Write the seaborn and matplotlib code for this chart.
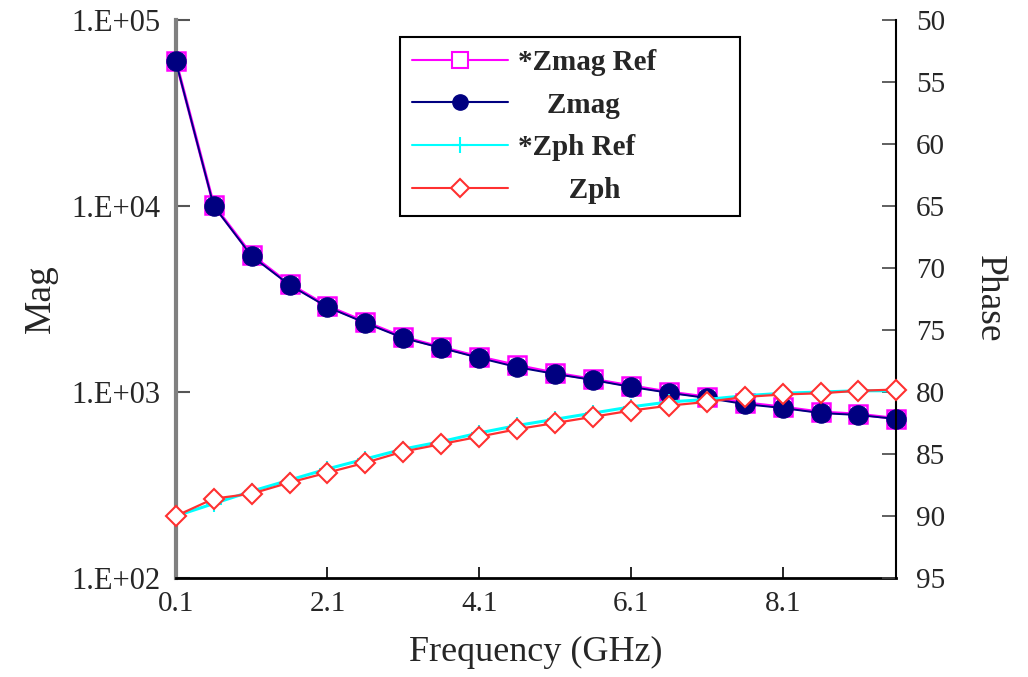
import numpy as np
import pandas as pd
import seaborn as sns
import matplotlib
matplotlib.use("Agg")
import matplotlib.pyplot as plt
from matplotlib.lines import Line2D

freq = [0.1, 0.6, 1.1, 1.6, 2.1, 2.6, 3.1, 3.6, 4.1, 4.6,
        5.1, 5.6, 6.1, 6.6, 7.1, 7.6, 8.1, 8.6, 9.1, 9.6]
zmag_ref = [60500, 10100, 5450, 3800, 2890, 2380, 1970, 1740, 1545, 1390,
            1265, 1170, 1080, 1000, 940, 875, 830, 780, 760, 720]
zmag = [60000, 10000, 5380, 3760, 2860, 2350, 1950, 1725, 1525, 1360,
        1250, 1160, 1065, 990, 929, 861, 820, 771, 752, 716]
zph_ref = [90.0, 89.0, 88.0, 87.1, 86.2, 85.4, 84.6, 84.0, 83.3, 82.7,
           82.2, 81.7, 81.2, 80.8, 80.6, 80.3, 80.1, 80.0, 79.9, 79.9]
zph = [90.0, 88.6, 88.2, 87.3, 86.5, 85.7, 84.8, 84.2, 83.6, 83.0,
       82.5, 82.0, 81.5, 81.1, 80.8, 80.4, 80.2, 80.1, 79.9, 79.8]
x_ticks = [0.1, 2.1, 4.1, 6.1, 8.1]
mag_ticks = [1e2, 1e3, 1e4, 1e5]
mag_labels = ["1.E+02", "1.E+03", "1.E+04", "1.E+05"]
phase_ticks = [50, 55, 60, 65, 70, 75, 80, 85, 90, 95]
labels = ["*Zmag Ref          ", "    Zmag", "*Zph Ref", "       Zph"]

sns.set_style("white")
plt.rcParams['font.family'] = ['Liberation Serif', 'DejaVu Serif']

df = pd.DataFrame({"f": freq, "zmag_ref": zmag_ref, "zmag": zmag,
                   "zph_ref": zph_ref, "zph": zph})

fig = plt.figure(figsize=(10.28, 6.77), dpi=100)
ax = fig.add_axes([0.171, 0.1462, 0.701, 0.8243])
ax2 = ax.twinx()

c_mref, c_mag, c_pref, c_ph = "#ff00ff", "#000080", "#00ffff", "#ff3030"

sns.lineplot(data=df, x="f", y="zmag_ref", ax=ax, color=c_mref, lw=2.2,
             marker="s", markersize=13, markerfacecolor="white",
             markeredgecolor=c_mref, markeredgewidth=1.8, zorder=2, clip_on=False)
sns.lineplot(data=df, x="f", y="zmag", ax=ax, color=c_mag, lw=1.4,
             marker="o", markersize=14, markerfacecolor=c_mag,
             markeredgecolor=c_mag, zorder=3, clip_on=False)
sns.lineplot(data=df, x="f", y="zph_ref", ax=ax2, color=c_pref, lw=2.2,
             marker="+", markersize=12, markeredgecolor=c_pref,
             markeredgewidth=1.5, zorder=2, clip_on=False)
sns.lineplot(data=df, x="f", y="zph", ax=ax2, color=c_ph, lw=1.6,
             marker="D", markersize=10, markerfacecolor="white",
             markeredgecolor=c_ph, markeredgewidth=1.5, zorder=3, clip_on=False)

ax.set_yscale("log")
ax.set_ylim(1e2, 1e5)
ax.set_xlim(0.1, 9.6)
ax.set_yticks(mag_ticks)
ax.set_yticklabels(mag_labels)
ax.yaxis.set_minor_locator(matplotlib.ticker.NullLocator())
ax.set_xticks(x_ticks)
ax.set_xticklabels([f"{t:.1f}" for t in x_ticks])

ax2.set_ylim(95, 50)
ax2.set_yticks(phase_ticks)

ax.set_xlabel("Frequency (GHz)", fontsize=26, labelpad=14)
ax.set_ylabel("Mag", fontsize=27, labelpad=10)
ax2.set_ylabel("Phase", fontsize=27, rotation=270, labelpad=44)

for a in (ax, ax2):
    a.spines["top"].set_visible(False)
ax.spines["left"].set_color("#808080")
ax.spines["left"].set_linewidth(3)
ax.spines["bottom"].set_color("black")
ax.spines["bottom"].set_linewidth(2)
ax.spines["right"].set_visible(False)
ax2.spines["left"].set_visible(False)
ax2.spines["bottom"].set_visible(False)
ax2.spines["right"].set_color("black")
ax2.spines["right"].set_linewidth(1.5)

ax.tick_params(axis="y", which="both", direction="in", length=10, width=1.5,
               color="#555555", labelsize=22, pad=11, left=True)
ax.tick_params(axis="x", direction="in", length=8, width=1.2, color="black",
               labelsize=21, pad=9, bottom=True)
ax2.tick_params(axis="y", direction="in", length=10, width=1.2, color="#444444",
                labelsize=21, pad=14, right=True)

handles = [
    Line2D([], [], color=c_mref, lw=1.5, marker="s", markersize=11,
           markerfacecolor="white", markeredgecolor=c_mref, markeredgewidth=1.5),
    Line2D([], [], color=c_mag, lw=1.5, marker="o", markersize=11,
           markerfacecolor=c_mag, markeredgecolor=c_mag),
    Line2D([], [], color=c_pref, lw=1.5, marker="+", markersize=11,
           markeredgecolor=c_pref, markeredgewidth=1.5),
    Line2D([], [], color=c_ph, lw=1.5, marker="D", markersize=9,
           markerfacecolor="white", markeredgecolor=c_ph, markeredgewidth=1.5),
]
leg = ax2.legend(handles, labels, loc="upper left",
                 bbox_to_anchor=(0.389, 0.945), bbox_transform=fig.transFigure,
                 frameon=True, fancybox=False, framealpha=1, edgecolor="black",
                 handlelength=3.3, handletextpad=0.35, labelspacing=0.54,
                 borderpad=0.4, borderaxespad=0,
                 prop={"size": 21, "weight": "bold"})
leg.get_frame().set_linewidth(1.5)

ax.set_zorder(1)
ax2.set_zorder(2)
ax2.patch.set_visible(False)

fig.savefig("out.png", dpi=100)
